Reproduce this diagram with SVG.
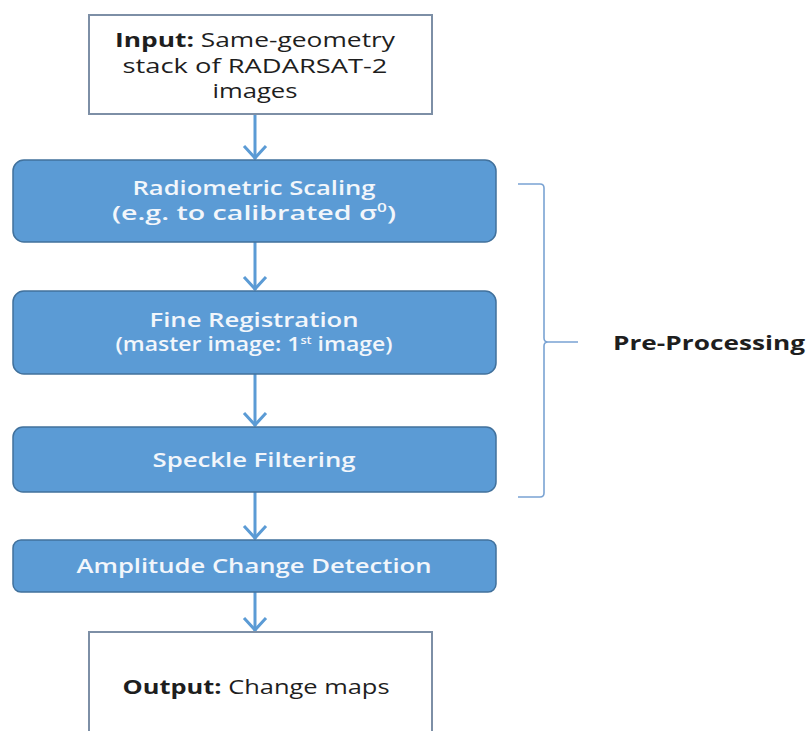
<svg xmlns="http://www.w3.org/2000/svg" width="809" height="731" viewBox="0 0 809 731">
<style>
.wbox{fill:#ffffff;stroke:#7d8fa6;stroke-width:2}
.bbox{fill:#5b9bd5;stroke:#41719c;stroke-width:1.5}
.dark{font-family:"Open Sans","Noto Sans","Liberation Sans",sans-serif;fill:#1e1e1e;font-size:20px}
.light{font-family:"Open Sans","Noto Sans","Liberation Sans",sans-serif;fill:#f2f6fb;font-size:20px;font-weight:600}
.b{font-weight:700}
.conn{stroke:#5b9bd5;stroke-width:3;fill:none}
.brace{stroke:#7aa3d3;stroke-width:1.6;fill:none}
</style>
<defs>
<marker id="arr" viewBox="-16 -14 18 28" refX="0" refY="0" markerWidth="18" markerHeight="28" markerUnits="userSpaceOnUse" orient="auto">
<path d="M-13,-11 L-1,0 L-13,11" fill="none" stroke="#5b9bd5" stroke-width="3"/>
</marker>
</defs>
<rect width="809" height="731" fill="#ffffff"/>
<g id="connectors">
<line class="conn" x1="255" y1="114" x2="255" y2="159" marker-end="url(#arr)"/>
<line class="conn" x1="255" y1="242" x2="255" y2="290" marker-end="url(#arr)"/>
<line class="conn" x1="255" y1="374" x2="255" y2="426" marker-end="url(#arr)"/>
<line class="conn" x1="255" y1="492" x2="255" y2="539" marker-end="url(#arr)"/>
<line class="conn" x1="255" y1="592" x2="255" y2="631" marker-end="url(#arr)"/>
</g>
<g id="input">
<rect class="wbox" x="89" y="15" width="343" height="99"/>
<text class="dark" x="255" y="47" text-anchor="middle" textLength="280" lengthAdjust="spacingAndGlyphs"><tspan class="b">Input:</tspan> Same-geometry</text>
<text class="dark" x="255" y="73" text-anchor="middle" textLength="265" lengthAdjust="spacingAndGlyphs">stack of  RADARSAT-2</text>
<text class="dark" x="255" y="98" text-anchor="middle" textLength="85" lengthAdjust="spacingAndGlyphs">images</text>
</g>
<g id="radiometric">
<rect class="bbox" x="13" y="160" width="483" height="82" rx="11"/>
<text class="light" x="254" y="195" text-anchor="middle" textLength="243" lengthAdjust="spacingAndGlyphs">Radiometric Scaling</text>
<text class="light" x="254" y="220" text-anchor="middle" textLength="284" lengthAdjust="spacingAndGlyphs">(e.g. to calibrated σ<tspan dy="-8" font-size="12">0</tspan><tspan dy="8">)</tspan></text>
</g>
<g id="registration">
<rect class="bbox" x="13" y="291" width="483" height="83" rx="11"/>
<text class="light" x="254" y="327" text-anchor="middle" textLength="209" lengthAdjust="spacingAndGlyphs">Fine Registration</text>
<text class="light" x="254" y="351" text-anchor="middle" font-size="17" textLength="277" lengthAdjust="spacingAndGlyphs">(master image: 1<tspan dy="-7" font-size="11">st</tspan><tspan dy="7"> image)</tspan></text>
</g>
<g id="speckle">
<rect class="bbox" x="13" y="427" width="483" height="65" rx="10"/>
<text class="light" x="254" y="467" text-anchor="middle" textLength="203" lengthAdjust="spacingAndGlyphs">Speckle Filtering</text>
</g>
<g id="amplitude">
<rect class="bbox" x="13" y="540" width="483" height="52" rx="8"/>
<text class="light" x="254" y="573" text-anchor="middle" textLength="355" lengthAdjust="spacingAndGlyphs">Amplitude Change Detection</text>
</g>
<g id="output">
<rect class="wbox" x="89" y="632" width="343" height="106"/>
<text class="dark" x="256" y="694" text-anchor="middle" font-size="21" textLength="267" lengthAdjust="spacingAndGlyphs"><tspan class="b">Output:</tspan> Change maps</text>
</g>
<g id="preprocessing">
<path class="brace" d="M518,184 H540 Q544,184 544,188 V338 Q544,342 548,342 H578 M548,342 Q544,342 544,346 V493 Q544,497 540,497 H518"/>
<text class="dark b" x="613" y="350" font-size="22" textLength="192" lengthAdjust="spacingAndGlyphs">Pre-Processing</text>
</g>
</svg>
